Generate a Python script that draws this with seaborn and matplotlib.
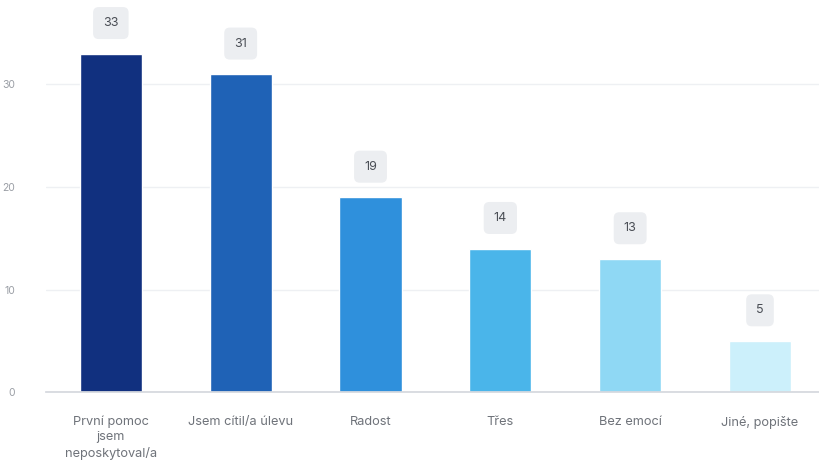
import matplotlib
matplotlib.use("Agg")
import matplotlib.pyplot as plt
import seaborn as sns
import pandas as pd

categories = ["První pomoc\njsem\nneposkytoval/a", "Jsem cítil/a úlevu", "Radost",
              "Třes", "Bez emocí", "Jiné, popište"]
values = [33, 31, 19, 14, 13, 5]
colors = ["#11307f", "#1f62b6", "#2f90dc", "#4ab5ea", "#8fd8f4", "#ccf0fb"]
yticks = [0, 10, 20, 30]

sns.set_theme(style="white")
plt.rcParams['font.family'] = ['Inter', 'DejaVu Sans']

df = pd.DataFrame({"cat": categories, "val": values})

fig = plt.figure(figsize=(8.2, 4.63), dpi=100)
ax = fig.add_axes([0.056, 0.153, 0.95, 0.842])

sns.barplot(data=df, x="cat", y="val", hue="cat", palette=colors, legend=False,
            width=0.48, ax=ax, saturation=1)

ax.set_ylim(0, 38)
ax.set_xlim(-0.5, 5.5)
ax.set_yticks(yticks)
ax.set_xlabel("")
ax.set_ylabel("")
ax.grid(axis="y", color="#eef0f3", linewidth=1)
ax.set_axisbelow(True)
for s in ["top", "right", "left"]:
    ax.spines[s].set_visible(False)
ax.spines["bottom"].set_color("#d5d8de")
ax.tick_params(axis="both", length=0, colors="#6f737a", labelsize=9.2)
ax.tick_params(axis="x", pad=17)
ax.tick_params(axis="y", pad=22, labelsize=7.5, colors="#9a9ea5")
for lab in ax.get_xticklabels():
    lab.set_linespacing(1.35)
    lab.set_verticalalignment("top")

for i, v in enumerate(values):
    ax.annotate(str(v), xy=(i, v), xytext=(0, 22), textcoords="offset points",
                ha="center", va="center", fontsize=9, color="#4a4e55",
                bbox=dict(boxstyle="round,pad=0.8,rounding_size=0.45",
                          fc="#eceef1", ec="none"))

fig.savefig("out.png", dpi=100)
